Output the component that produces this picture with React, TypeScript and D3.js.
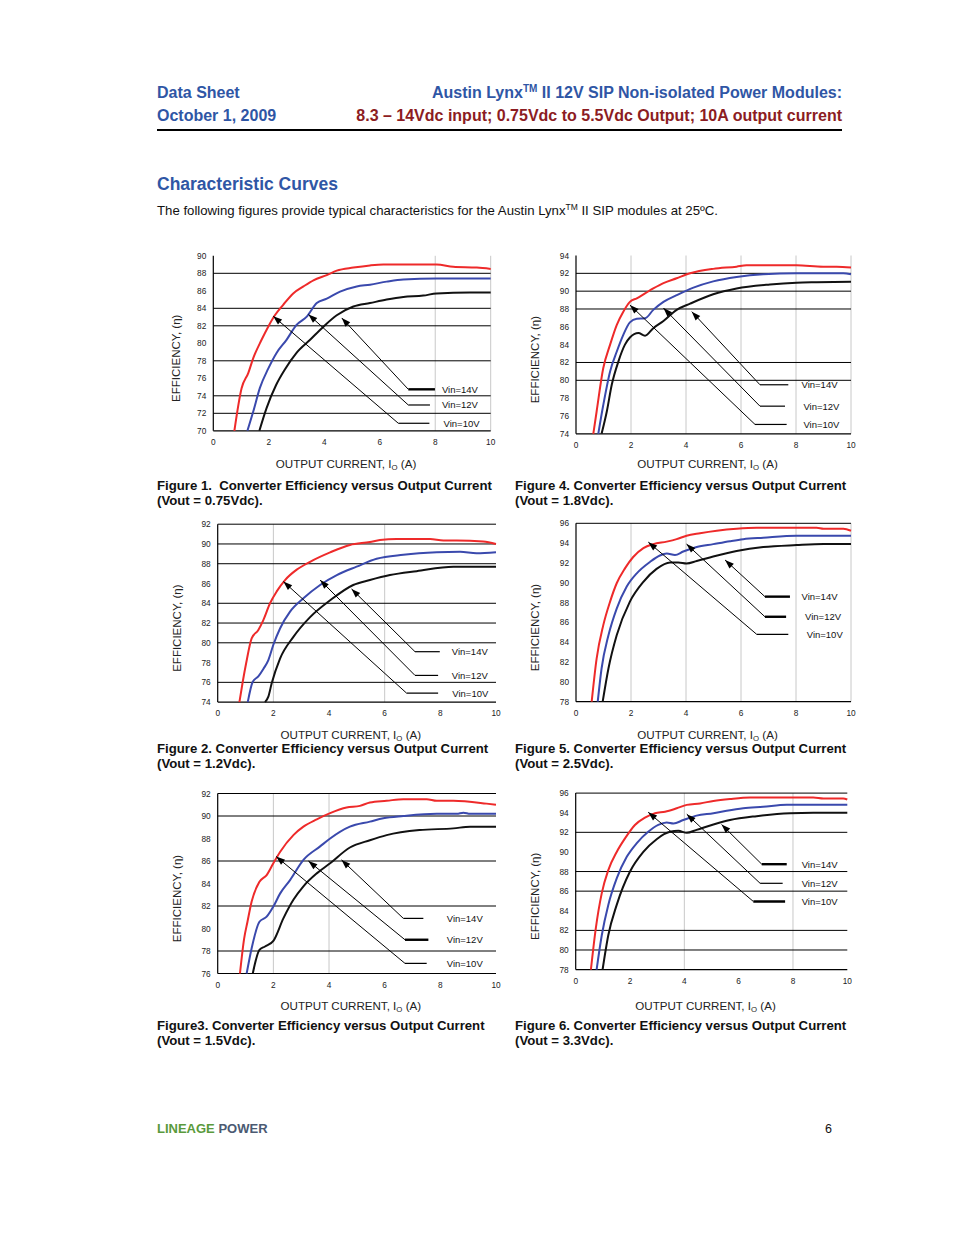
import React from "react";
import * as d3 from "d3";

type Pt = [number, number];

// ---- curve data (output current A, efficiency %) ----
const fig1Red: Pt[] = [[0.76,70],[1.02,74.86],[1.26,76.6],[1.44,78.3],[1.74,80.4],[1.98,81.9],[2.22,83.2],[2.52,84.4],[2.88,85.7],[3.25,86.5],[3.61,87.2],[4.09,87.8],[4.45,88.3],[5.05,88.65],[5.65,88.9],[6.13,89.0],[6.85,89.0],[8.05,89.0],[8.65,88.75],[9.5,88.65],[10,88.5]];
const fig1Blue: Pt[] = [[1.23,70],[1.44,72.2],[1.68,74.9],[1.98,77.1],[2.28,78.9],[2.64,80.4],[3.0,82.1],[3.37,83.05],[3.73,84.6],[4.09,85.1],[4.57,85.9],[5.17,86.5],[5.65,86.7],[6.25,87.05],[6.85,87.3],[8.05,87.4],[10,87.4]];
const fig1Black: Pt[] = [[1.66,70],[1.92,72.6],[2.26,75.2],[2.58,77.0],[3.0,78.9],[3.49,80.4],[3.97,81.9],[4.45,83.2],[5.05,84.2],[5.65,84.6],[6.25,85.0],[6.85,85.3],[7.57,85.45],[8.05,85.7],[9.25,85.8],[10,85.8]];

const fig4Red: Pt[] = [[0.63,74],[0.75,76.5],[0.99,81.35],[1.24,84.0],[1.48,86.2],[1.72,87.7],[1.96,88.8],[2.21,89.2],[2.51,89.75],[2.81,90.3],[3.18,90.9],[3.66,91.45],[4.15,92.0],[4.99,92.5],[5.84,92.75],[6.2,92.9],[8.02,92.9],[8.99,92.75],[9.48,92.75],[10,92.65]];
const fig4Blue: Pt[] = [[0.81,74],[0.99,77.2],[1.24,81.0],[1.48,83.2],[1.72,85.1],[1.96,86.5],[2.21,86.9],[2.51,86.95],[2.81,87.9],[3.18,88.8],[3.66,89.55],[4.27,90.4],[4.99,91.1],[5.84,91.6],[6.81,91.9],[8.02,92.0],[9.72,92.0],[10,91.9]];
const fig4Black: Pt[] = [[0.93,74],[1.12,76.5],[1.3,79.5],[1.54,82.1],[1.78,84.0],[1.96,84.8],[2.27,85.3],[2.51,85.0],[2.81,85.85],[3.18,86.65],[3.66,87.9],[4.15,88.6],[4.99,89.65],[5.84,90.3],[7.05,90.75],[8.02,90.95],[8.75,91.0],[10,91.05]];

const fig2Red: Pt[] = [[0.78,74],[0.9,76.06],[1.02,77.9],[1.22,80.45],[1.46,81.3],[1.64,82.3],[1.88,84.0],[2.12,85.2],[2.42,86.35],[2.84,87.4],[3.32,88.2],[4.04,89.15],[4.75,89.9],[5.47,90.2],[5.83,90.4],[6.43,90.5],[7.63,90.5],[8.11,90.35],[8.59,90.35],[9.54,90.25],[10,90.0]];
const fig2Blue: Pt[] = [[1.08,74],[1.26,76.06],[1.46,76.6],[1.64,77.35],[1.82,78.25],[2.0,79.8],[2.24,81.45],[2.6,83.15],[3.08,84.5],[3.68,85.85],[4.28,86.85],[4.99,87.7],[5.71,88.5],[6.67,88.9],[7.87,89.15],[8.71,89.2],[9.3,89.05],[10,89.15]];
const fig2Black: Pt[] = [[1.7,74],[1.82,74.55],[1.94,75.9],[2.24,78.4],[2.72,80.6],[3.32,82.6],[4.04,84.3],[4.87,85.85],[5.47,86.35],[6.19,86.85],[7.15,87.25],[8.47,87.7],[10,87.7]];

const fig5Red: Pt[] = [[0.57,78],[0.75,82.35],[0.99,85.7],[1.24,88.1],[1.48,89.95],[1.78,91.45],[2.08,92.6],[2.45,93.5],[2.81,93.9],[3.3,94.15],[3.66,94.4],[4.02,94.75],[4.51,95.0],[5.12,95.25],[5.84,95.45],[6.57,95.55],[8.75,95.55],[9.0,95.45],[9.72,95.45],[10,95.25]];
const fig5Blue: Pt[] = [[0.79,78],[0.93,81.35],[1.18,84.7],[1.48,87.4],[1.84,89.6],[2.21,90.95],[2.69,92.1],[3.05,92.75],[3.3,92.95],[3.6,92.8],[3.9,93.15],[4.39,93.6],[4.99,93.9],[5.6,94.2],[6.08,94.4],[6.81,94.55],[8.02,94.75],[10,94.75]];
const fig5Black: Pt[] = [[0.97,78],[1.18,81.35],[1.48,84.7],[1.96,88.1],[2.45,90.1],[2.93,91.4],[3.42,92.05],[3.72,92.05],[4.02,91.95],[4.39,92.2],[4.99,92.65],[5.84,93.2],[6.81,93.6],[8.02,93.8],[9.0,93.9],[10,93.9]];

const fig3Red: Pt[] = [[0.8,76],[0.95,79.1],[1.07,80.6],[1.22,82.4],[1.5,84.15],[1.76,84.75],[2.0,85.8],[2.24,86.8],[2.72,88.3],[3.08,89.05],[3.56,89.7],[4.04,90.25],[4.63,90.75],[5.11,90.9],[5.47,91.2],[6.07,91.35],[6.67,91.5],[7.51,91.5],[7.87,91.35],[8.47,91.35],[9.66,91.1],[10,91.0]];
const fig3Blue: Pt[] = [[1.04,76],[1.22,78.25],[1.5,80.6],[1.76,81.05],[2.0,81.95],[2.24,83.1],[2.6,84.3],[3.08,86.1],[3.68,87.3],[4.04,88.0],[4.75,89.05],[5.47,89.5],[5.95,89.8],[6.67,90.0],[7.87,90.2],[8.59,90.2],[8.83,90.3],[9.07,90.2],[10,90.2]];
const fig3Black: Pt[] = [[1.26,76],[1.5,78.1],[1.7,78.4],[2.0,78.9],[2.36,80.9],[2.72,82.55],[3.08,83.75],[3.56,84.9],[4.04,85.8],[4.75,87.2],[5.47,87.85],[6.07,88.3],[7.25,88.75],[8.47,88.9],[9.07,89.05],[10,89.05]];

const fig6Red: Pt[] = [[0.56,78],[0.74,82.2],[0.96,85.8],[1.2,88.15],[1.51,90.0],[1.82,91.4],[2.18,92.75],[2.55,93.5],[2.92,93.95],[3.29,94.1],[3.72,94.45],[4.09,94.8],[4.58,94.95],[5.07,95.2],[5.68,95.4],[6.42,95.55],[8.75,95.55],[9.12,95.45],[9.85,95.45],[10,95.35]];
const fig6Blue: Pt[] = [[0.77,78],[0.96,81.5],[1.2,84.6],[1.51,87.3],[1.88,89.5],[2.25,90.9],[2.67,92.05],[3.04,92.75],[3.35,93.0],[3.6,92.9],[3.96,93.25],[4.45,93.7],[5.07,93.95],[5.56,94.2],[6.17,94.45],[6.9,94.6],[7.77,94.8],[10,94.8]];
const fig6Black: Pt[] = [[0.99,78],[1.2,81.5],[1.51,84.6],[2.0,88.0],[2.49,90.0],[2.98,91.3],[3.47,92.05],[3.78,92.15],[4.09,91.95],[4.45,92.25],[5.07,92.8],[5.68,93.25],[6.66,93.65],[7.89,93.95],[8.75,94.0],[10,94.0]];

// ---- axis ticks / reference lines ----
const xTicks = [0, 2, 4, 6, 8, 10];
const fig1YTicks = [70, 72, 74, 76, 78, 80, 82, 84, 86, 88, 90];
const fig4YTicks = [74, 76, 78, 80, 82, 84, 86, 88, 90, 92, 94];
const fig2YTicks = [74, 76, 78, 80, 82, 84, 86, 88, 90, 92];
const fig5YTicks = [78, 80, 82, 84, 86, 88, 90, 92, 94, 96];
const fig3YTicks = [76, 78, 80, 82, 84, 86, 88, 90, 92];
const fig6YTicks = [78, 80, 82, 84, 86, 88, 90, 92, 94, 96];

const fig1Grid = [72, 74, 78, 82, 84, 88];
const fig4Grid = [80, 82, 88, 90, 92];
const fig2Grid = [76, 80, 82, 84, 88, 90, 92];
const fig5Grid = [96];
const fig3Grid = [78, 82, 86, 90, 92];
const fig6Grid = [80, 82, 86, 88, 92, 96];

const fig1VGrid = [8, 10];
const fig4VGrid = [2, 4, 6, 8, 10];
const fig2VGrid = [2, 6];
const fig5VGrid = [2, 4, 6, 8, 10];
const fig3VGrid = [2, 4];
const fig6VGrid = [4, 8];

const vinLabels = ["Vin=14V", "Vin=12V", "Vin=10V"];

// leader lines: arrow tip [x, y], elbow [x, y], end of the short legend stroke (x), label x
type Note = { tip: Pt; elbow: Pt; end: number; lx: number };
const fig1Notes: Note[] = [
  { tip: [4.63, 82.9], elbow: [7.03, 74.74], end: 7.99, lx: 8.24 },
  { tip: [3.43, 83.3], elbow: [7.03, 72.95], end: 7.81, lx: 8.24 },
  { tip: [2.16, 83.1], elbow: [6.67, 70.86], end: 7.79, lx: 8.3 },
];
const fig4Notes: Note[] = [
  { tip: [4.21, 87.7], elbow: [6.69, 79.5], end: 7.72, lx: 8.2 },
  { tip: [3.18, 88.1], elbow: [6.69, 77.1], end: 7.6, lx: 8.27 },
  { tip: [1.96, 88.45], elbow: [6.51, 75.05], end: 7.66, lx: 8.27 },
];
const fig2Notes: Note[] = [
  { tip: [4.81, 85.45], elbow: [7.09, 79.1], end: 7.98, lx: 8.41 },
  { tip: [3.68, 86.35], elbow: [7.09, 76.7], end: 7.92, lx: 8.41 },
  { tip: [2.36, 86.2], elbow: [6.79, 74.9], end: 7.92, lx: 8.43 },
];
const fig5Notes: Note[] = [
  { tip: [5.42, 92.3], elbow: [6.87, 88.6], end: 7.78, lx: 8.2 },
  { tip: [4.02, 93.9], elbow: [6.87, 86.57], end: 7.64, lx: 8.33 },
  { tip: [2.63, 94.1], elbow: [6.57, 84.8], end: 7.72, lx: 8.39 },
];
const fig3Notes: Note[] = [
  { tip: [4.45, 86.1], elbow: [6.67, 80.9], end: 7.39, lx: 8.23 },
  { tip: [3.26, 86.0], elbow: [6.73, 79.0], end: 7.57, lx: 8.23 },
  { tip: [2.1, 86.4], elbow: [6.73, 76.9], end: 7.51, lx: 8.23 },
];
const fig6Notes: Note[] = [
  { tip: [5.37, 92.8], elbow: [6.85, 88.75], end: 7.77, lx: 8.32 },
  { tip: [4.09, 93.85], elbow: [6.79, 86.8], end: 7.62, lx: 8.32 },
  { tip: [2.67, 94.05], elbow: [6.54, 84.95], end: 7.71, lx: 8.32 },
];

const BLUE = "#2f56a5";
const DARKRED = "#8c1c22";
const FONT = "'Liberation Sans', Arial, Helvetica, sans-serif";
const RED = "#ee2a2a";
const CBLUE = "#3a49ad";
const CBLACK = "#111";

interface ChartProps {
  left: number; right: number; top: number; bottom: number;
  yTicks: number[]; grid: number[]; vgrid: number[];
  red: Pt[]; blue: Pt[]; black: Pt[];
  notes: Note[]; thick: boolean[]; yTitleOff: number;
  xTitleY: number; cap1: string; cap2: string; capX: number; capY: number;
}

function Chart(p: ChartProps) {
  const x = d3.scaleLinear().domain([0, 10]).range([p.left, p.right]);
  const yDom = d3.extent(p.yTicks) as [number, number];
  const y = d3.scaleLinear().domain(yDom).range([p.bottom, p.top]);
  const line = d3.line<Pt>().x(d => x(d[0])).y(d => y(d[1])).curve(d3.curveMonotoneX);
  const midX = (p.left + p.right) / 2;
  const midY = (p.top + p.bottom) / 2;

  const arrow = (n: Note) => {
    const tx = x(n.tip[0]), ty = y(n.tip[1]);
    const ex = x(n.elbow[0]), ey = y(n.elbow[1]);
    const ang = Math.atan2(ey - ty, ex - tx);
    const L = 9, W = 3.2;
    const bx = tx + L * Math.cos(ang), by = ty + L * Math.sin(ang);
    const px = -Math.sin(ang) * W, py = Math.cos(ang) * W;
    return `M${tx},${ty}L${bx + px},${by + py}L${bx - px},${by - py}Z`;
  };

  return (
    <g>
      {p.vgrid.map(v => (
        <line key={"v" + v} x1={x(v)} x2={x(v)} y1={p.top} y2={p.bottom} stroke="#c8c8c8" strokeWidth={1} />
      ))}
      {p.grid.map(v => (
        <line key={"g" + v} x1={p.left} x2={p.right} y1={y(v)} y2={y(v)} stroke="#000" strokeWidth={1} />
      ))}
      <line x1={p.left} x2={p.left} y1={p.top} y2={p.bottom} stroke="#000" strokeWidth={1.2} />
      <line x1={p.left} x2={p.right} y1={p.bottom} y2={p.bottom} stroke="#000" strokeWidth={1.2} />
      {p.yTicks.map(t => (
        <text key={"yt" + t} x={p.left - 7} y={y(t) + 3} fontSize={8.3} textAnchor="end" fill="#222" fontFamily={FONT}>{t}</text>
      ))}
      {xTicks.map(t => (
        <text key={"xt" + t} x={x(t)} y={p.bottom + 14} fontSize={8.3} textAnchor="middle" fill="#222" fontFamily={FONT}>{t}</text>
      ))}
      <path d={line(p.red) || ""} fill="none" stroke={RED} strokeWidth={2} />
      <path d={line(p.blue) || ""} fill="none" stroke={CBLUE} strokeWidth={2} />
      <path d={line(p.black) || ""} fill="none" stroke={CBLACK} strokeWidth={2} />
      {p.notes.map((n, i) => (
        <g key={"n" + i}>
          <line x1={x(n.tip[0])} y1={y(n.tip[1])} x2={x(n.elbow[0])} y2={y(n.elbow[1])} stroke="#000" strokeWidth={1} />
          <line x1={x(n.elbow[0])} y1={y(n.elbow[1])} x2={x(n.end)} y2={y(n.elbow[1])} stroke="#000" strokeWidth={p.thick[i] ? 2.4 : 1.2} />
          <path d={arrow(n)} fill="#000" />
          <text x={x(n.lx)} y={y(n.elbow[1]) + 3.5} fontSize={9.5} fill="#111" fontFamily={FONT}>{vinLabels[i]}</text>
        </g>
      ))}
      <text transform={`translate(${p.left - p.yTitleOff},${midY + 15}) rotate(-90)`} textAnchor="middle" fontSize={11.5} fill="#222" fontFamily={FONT}>
        EFFICIENCY, (η)
      </text>
      <text x={midX - 6} y={p.xTitleY} textAnchor="middle" fontSize={11.6} fill="#222" fontFamily={FONT}>
        OUTPUT CURRENT, I<tspan fontSize={7.8} dy={2}>O</tspan><tspan dy={-2}> (A)</tspan>
      </text>
      <text x={p.capX} y={p.capY} fontSize={13.2} fontWeight="bold" fill="#111" fontFamily={FONT} style={{ whiteSpace: "pre" }}>{p.cap1}</text>
      <text x={p.capX} y={p.capY + 15} fontSize={13.2} fontWeight="bold" fill="#111" fontFamily={FONT}>{p.cap2}</text>
    </g>
  );
}

export default function App() {
  return (
    <svg width={954} height={1235} style={{ position: "absolute", left: 0, top: 0, background: "#fff" }}>
      <rect width={954} height={1235} fill="#fff" />
      {/* header */}
      <text x={157} y={98} fontSize={16} fontWeight="bold" fill={BLUE} fontFamily={FONT}>Data Sheet</text>
      <text x={157} y={121} fontSize={16} fontWeight="bold" fill={BLUE} fontFamily={FONT}>October 1, 2009</text>
      <text x={842} y={98} fontSize={16} fontWeight="bold" fill={BLUE} textAnchor="end" fontFamily={FONT}>
        Austin Lynx<tspan fontSize={10} dy={-6}>TM</tspan><tspan dy={6}> II 12V SIP Non-isolated Power Modules:</tspan>
      </text>
      <text x={842} y={121} fontSize={16} fontWeight="bold" fill={DARKRED} textAnchor="end" fontFamily={FONT}>
        8.3 – 14Vdc input; 0.75Vdc to 5.5Vdc Output; 10A output current
      </text>
      <line x1={157} x2={842} y1={130} y2={130} stroke="#000" strokeWidth={2} />
      <text x={157} y={190} fontSize={17.5} fontWeight="bold" fill={BLUE} fontFamily={FONT}>Characteristic Curves</text>
      <text x={157} y={215} fontSize={13.2} fill="#111" fontFamily={FONT}>
        The following figures provide typical characteristics for the Austin Lynx<tspan fontSize={8.5} dy={-5}>TM</tspan><tspan dy={5}> II SIP modules at 25ºC.</tspan>
      </text>

      <Chart left={213.3} right={490.7} top={255.8} bottom={430.8} yTicks={fig1YTicks} grid={fig1Grid} vgrid={fig1VGrid}
        red={fig1Red} blue={fig1Blue} black={fig1Black} notes={fig1Notes} thick={[true, false, false]} yTitleOff={33}
        xTitleY={468} cap1="Figure 1.  Converter Efficiency versus Output Current" cap2="(Vout = 0.75Vdc)." capX={157} capY={490} />
      <Chart left={576} right={851} top={255.5} bottom={433.8} yTicks={fig4YTicks} grid={fig4Grid} vgrid={fig4VGrid}
        red={fig4Red} blue={fig4Blue} black={fig4Black} notes={fig4Notes} thick={[false, false, false]} yTitleOff={37}
        xTitleY={468} cap1="Figure 4. Converter Efficiency versus Output Current" cap2="(Vout = 1.8Vdc)." capX={515} capY={490} />
      <Chart left={217.7} right={496} top={524.2} bottom={702.1} yTicks={fig2YTicks} grid={fig2Grid} vgrid={fig2VGrid}
        red={fig2Red} blue={fig2Blue} black={fig2Black} notes={fig2Notes} thick={[false, false, false]} yTitleOff={37}
        xTitleY={739} cap1="Figure 2. Converter Efficiency versus Output Current" cap2="(Vout = 1.2Vdc)." capX={157} capY={753} />
      <Chart left={576} right={851} top={523.3} bottom={701.7} yTicks={fig5YTicks} grid={fig5Grid} vgrid={fig5VGrid}
        red={fig5Red} blue={fig5Blue} black={fig5Black} notes={fig5Notes} thick={[true, true, false]} yTitleOff={37}
        xTitleY={739} cap1="Figure 5. Converter Efficiency versus Output Current" cap2="(Vout = 2.5Vdc)." capX={515} capY={753} />
      <Chart left={217.7} right={496} top={793.5} bottom={973.5} yTicks={fig3YTicks} grid={fig3Grid} vgrid={fig3VGrid}
        red={fig3Red} blue={fig3Blue} black={fig3Black} notes={fig3Notes} thick={[false, true, false]} yTitleOff={37}
        xTitleY={1010} cap1="Figure3. Converter Efficiency versus Output Current" cap2="(Vout = 1.5Vdc)." capX={157} capY={1030} />
      <Chart left={575.7} right={847.3} top={793.1} bottom={969.6} yTicks={fig6YTicks} grid={fig6Grid} vgrid={fig6VGrid}
        red={fig6Red} blue={fig6Blue} black={fig6Black} notes={fig6Notes} thick={[true, false, true]} yTitleOff={37}
        xTitleY={1010} cap1="Figure 6. Converter Efficiency versus Output Current" cap2="(Vout = 3.3Vdc)." capX={515} capY={1030} />

      {/* footer */}
      <text x={157} y={1133} fontSize={13} fontWeight="bold" fontFamily={FONT}>
        <tspan fill="#5a9a3c">LINEAGE</tspan><tspan fill="#4b5a72"> POWER</tspan>
      </text>
      <text x={832} y={1133} fontSize={12.5} fill="#111" textAnchor="end" fontFamily={FONT}>6</text>
    </svg>
  );
}
